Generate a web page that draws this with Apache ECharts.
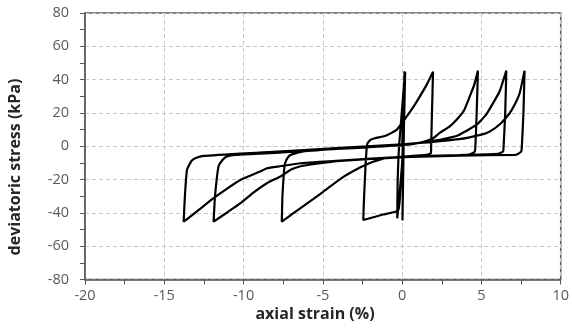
<!DOCTYPE html>
<html>
<head>
<meta charset="utf-8">
<script src="https://cdn.jsdelivr.net/npm/echarts@6/dist/echarts.min.js"></script>
<style>html,body{margin:0;padding:0;background:#fff}#c{width:572px;height:334px}</style>
</head>
<body>
<div id="c"></div>
<script>
// Axis ticks
const xTicks = [-20, -15, -10, -5, 0, 5, 10];
const yTicks = [-80, -60, -40, -20, 0, 20, 40, 60, 80];

// Path branches (axial strain %, deviatoric stress kPa), in loading order
const initialStrain = [0.0, 0.15, 0.02, 0.17, 0.0, -0.31, -0.28, -0.18, 0.19, 0.08, -0.1, -0.25, -1.2, -2.45];
const initialStress = [0, 44.8, -44.5, 44.8, -10, -43.3, -20, 1.8, 44.8, 0, -25, -38.5, -41, -44.3];

const reload1Strain = [-2.42, -2.3, -2.2, -2.0, -1.72, -1.0, -0.35, 0.28, 0.7, 1.11, 1.55, 1.95];
const reload1Stress = [-35, -10, 1.5, 3.8, 4.8, 6.5, 9.8, 17.8, 23.5, 29.8, 37, 44.8];

const unload2Strain = [1.88, 1.83, 1.81, 1.5, 0, -1.0, -1.6, -2.03, -2.66, -3.8, -5.0, -6.23, -6.9, -7.59];
const unload2Stress = [20, 0, -4.2, -5.2, -6.2, -7.2, -8.6, -10, -12.8, -19, -27.5, -36, -40.5, -45.3];

const reload2Strain = [-7.55, -7.45, -7.38, -7.15, -6.86, -6.3, -3.9, 0, 1.3, 1.95, 2.37, 3.0, 3.42, 3.9, 4.26, 4.55, 4.78];
const reload2Stress = [-30, -15, -10.2, -6, -4.6, -3.2, -1.5, 0.6, 2.5, 4.8, 8, 12, 15.8, 21.5, 29.8, 37, 45.4];

const unload3Strain = [4.7, 4.62, 4.58, 4.3, 3.6, 0, -3.9, -5.4, -6.4, -7.0, -7.7, -8.53, -9.4, -10.21, -11.0, -11.89];
const unload3Stress = [20, 0, -3.2, -4.8, -5.3, -6.5, -8.8, -10.5, -12, -14, -18.3, -22.2, -28, -34.3, -39.5, -45.3];

const reload3Strain = [-11.8, -11.58, -11.3, -11.05, -10.5, -8, -3.9, 0, 2.37, 3.5, 4.68, 5.3, 5.73, 6.15, 6.57];
const reload3Stress = [-30, -12.2, -8, -6.2, -5.2, -4.0, -1.3, 0.9, 3.8, 6.5, 12.8, 19, 25.8, 33, 45.4];

const unload4Strain = [6.5, 6.4, 6.36, 6.0, 3.6, 0, -3.9, -6.4, -7.7, -8.53, -8.96, -10.21, -11.2, -11.89, -12.6, -13.2, -13.78];
const unload4Stress = [20, 0, -3.2, -4.6, -5.3, -6.4, -8.6, -10.2, -12.0, -13.2, -15.2, -20.3, -26.5, -31.2, -36.5, -41, -45.3];

const reload4Strain = [-13.7, -13.57, -13.3, -13.05, -12.52, -9, -3.9, 0, 3.6, 5.0, 5.52, 6.2, 6.78, 7.1, 7.41, 7.72];
const reload4Stress = [-30, -14.2, -9, -7.2, -5.8, -3.8, -1.0, 1.2, 4.3, 7, 8.8, 13.5, 19.8, 25, 31.8, 45.4];

const unload5Strain = [7.65, 7.55, 7.51, 7.3, 7.09, 3.6, 0, -2];
const unload5Stress = [20, 0, -3.2, -4.6, -5.2, -5.6, -6.6, -7.6];

const branches = [
  [initialStrain, initialStress],
  [reload1Strain, reload1Stress],
  [unload2Strain, unload2Stress],
  [reload2Strain, reload2Stress],
  [unload3Strain, unload3Stress],
  [reload3Strain, reload3Stress],
  [unload4Strain, unload4Stress],
  [reload4Strain, reload4Stress],
  [unload5Strain, unload5Stress]
];
const pathData = [];
branches.forEach(([xs, ys]) => xs.forEach((x, i) => pathData.push([x, ys[i]])));

const labelColor = '#595959';
const axisColor = '#595959';
const fontFam = '"Open Sans", "Liberation Sans", sans-serif';

const chart = echarts.init(document.getElementById('c'), null, {renderer: 'canvas'});
chart.setOption({
  animation: false,
  backgroundColor: '#fff',
  grid: {left: 85, right: 10.5, top: 13, bottom: 54.5, show: true, borderColor: axisColor, borderWidth: 1.5, backgroundColor: 'transparent'},
  xAxis: {
    type: 'value', min: xTicks[0], max: xTicks[xTicks.length - 1], interval: 5,
    axisLine: {show: true, onZero: false, lineStyle: {color: axisColor, width: 1.5}},
    axisTick: {show: true, length: 5, lineStyle: {color: axisColor}},
    minorTick: {show: true, splitNumber: 2, length: 5, lineStyle: {color: axisColor}},
    splitLine: {show: true, lineStyle: {color: '#c8c8c8', type: [4, 3], width: 1}},
    axisLabel: {color: labelColor, fontSize: 14.5, fontFamily: fontFam, margin: 9,
      formatter: v => xTicks.includes(v) ? String(v) : ''}
  },
  yAxis: {
    type: 'value', min: yTicks[0], max: yTicks[yTicks.length - 1], interval: 20,
    axisLine: {show: true, onZero: false, lineStyle: {color: axisColor, width: 1.5}},
    axisTick: {show: true, length: 5, lineStyle: {color: axisColor}},
    minorTick: {show: true, splitNumber: 2, length: 5, lineStyle: {color: axisColor}},
    splitLine: {show: true, lineStyle: {color: '#c8c8c8', type: [4, 3], width: 1}},
    axisLabel: {color: labelColor, fontSize: 14.5, fontFamily: fontFam, margin: 16,
      formatter: v => yTicks.includes(v) ? String(v) : ''}
  },
  graphic: [
    {type: 'text', x: 315, y: 314, style: {text: 'axial strain (%)', fill: '#262626', font: 'bold 16px ' + fontFam, textAlign: 'center', textVerticalAlign: 'middle'}},
    {type: 'text', x: 15.5, y: 167, rotation: Math.PI / 2, style: {text: 'deviatoric stress (kPa)', fill: '#262626', font: 'bold 16px ' + fontFam, textAlign: 'center', textVerticalAlign: 'middle'}}
  ],
  series: [{
    type: 'line', data: pathData, showSymbol: false, symbol: 'none', smooth: 0.15,
    lineStyle: {color: '#000', width: 2.2}, clip: false
  }]
});
</script>
</body>
</html>
